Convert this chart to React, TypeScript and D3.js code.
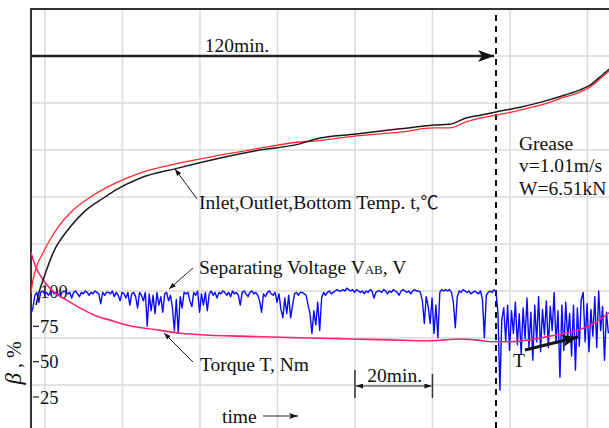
import React, { useEffect, useRef } from 'react'
import * as d3 from 'd3'

const W = 609
const H = 428

// inlet/outlet/bottom temperature, red and black trace (time in min, temp in °C)
const redTime = [0, 0.5, 1.5, 3.1, 4.9, 7.0, 10.1, 15.0, 21.9, 28.1, 38.2, 48.8, 59.1, 69.4, 73.3, 83.9, 95.2, 104.0, 108.1, 112.3, 115.9, 120.0, 126.2, 132.6, 137.8, 141.7, 144.3, 146.8, 149.2]
const redTemp = [29.6, 32.3, 35.3, 38.1, 40.9, 43.6, 46.6, 49.8, 53.0, 55.1, 57.2, 58.9, 60.4, 61.7, 61.9, 63.0, 63.8, 64.7, 64.7, 66.0, 66.8, 67.4, 68.5, 69.8, 71.3, 72.3, 73.4, 75.1, 76.8]
const blackTime = [1.3, 2.1, 3.1, 5.7, 10.1, 13.9, 19.1, 21.9, 28.1, 38.2, 48.8, 59.1, 69.4, 73.3, 83.9, 95.2, 104.0, 108.1, 112.3, 115.9, 120.0, 126.2, 132.6, 137.8, 141.7, 144.3, 146.8, 149.2]
const blackTemp = [27.0, 29.8, 32.3, 38.1, 43.6, 47.0, 50.0, 51.5, 54.0, 56.2, 58.3, 60.0, 61.3, 62.3, 63.4, 64.5, 65.3, 65.5, 66.8, 67.4, 68.1, 69.1, 70.4, 71.7, 72.8, 73.8, 75.5, 77.2]

// torque T, Nm
const torqueTime = [0, 1.0, 3.1, 6.2, 9.3, 12.6, 16.5, 20.4, 25.5, 32.0, 38.5, 46.2, 53.9, 62.2, 72.0, 82.3, 92.6, 102.2, 106.8, 110.2, 114.6, 119.2, 123.6, 128.8, 133.9, 137.8, 141.7, 145.5, 149.2]
const torqueNm = [1.91, 1.78, 1.62, 1.48, 1.40, 1.32, 1.24, 1.19, 1.13, 1.09, 1.05, 1.03, 1.02, 1.01, 1.00, 0.99, 0.98, 0.97, 0.98, 0.99, 0.98, 0.96, 0.96, 0.98, 1.02, 1.05, 1.09, 1.16, 1.27]

// separating voltage as beta %, one reading every half minute from t = 0
const blueStep = 0.5
const blueBeta = [
  84, 88, 97, 99, 92, 99, 100, 98, 99, 97, 99, 100, 98, 99, 98, 96, 99, 100, 99, 98,
  99, 95, 99, 100, 98, 96, 99, 98, 100, 99, 97, 99, 98, 100, 99, 98, 91, 99, 97, 99,
  99, 98, 100, 96, 99, 97, 93, 99, 98, 95, 99, 90, 98, 99, 96, 88, 99, 97, 93, 99,
  75, 98, 86, 97, 84, 99, 90, 96, 85, 98, 99, 93, 97, 88, 72, 94, 70, 96, 88, 99,
  98, 99, 93, 89, 99, 97, 100, 85, 98, 90, 99, 86, 98, 100, 97, 99, 95, 99, 98, 100,
  99, 97, 99, 96, 100, 98, 99, 97, 90, 99, 100, 98, 96, 99, 100, 98, 99, 97, 93, 85,
  98, 96, 99, 100, 98, 97, 99, 92, 98, 87, 81, 95, 84, 97, 81, 90, 98, 99, 97, 99,
  99, 98, 97, 90, 84, 70, 86, 76, 92, 72, 95, 99, 97, 99, 100, 98, 99, 100, 101, 100,
  100, 101, 100, 102, 101, 100, 101, 99, 101, 100, 99, 100, 98, 100, 99, 101, 100, 95, 99, 100,
  100, 99, 101, 100, 98, 100, 99, 101, 100, 99, 97, 100, 101, 100, 99, 100, 98, 100, 101, 100,
  100, 99, 93, 77, 96, 89, 77, 95, 70, 90, 67, 99, 101, 100, 101, 100, 101, 99, 92, 74,
  96, 100, 99, 101, 100, 99, 100, 98, 99, 100, 99, 98, 100, 94, 67, 97, 99, 100, 99, 101,
  99, 85, 30, 80, 88, 65, 90, 58, 86, 70, 92, 62, 84, 55, 88, 66, 95, 60, 85, 51,
  90, 64, 96, 57, 87, 69, 93, 60, 89, 72, 99, 63, 86, 39, 90, 58, 92, 66, 84, 54,
  90, 44, 88, 61, 94, 99, 64, 91, 57, 87, 68, 96, 60, 100, 72, 89, 51, 85, 70,
]

const betaTicks = [100, 75, 50, 25]
const gridTemps = [10, 20, 30, 40, 50, 60, 70, 80]
const gridTimes = [3.6, 23.6, 43.6, 63.6, 83.6, 103.6, 123.6, 143.6]
const greaseLines = ['Grease', 'v=1.01m/s', 'W=6.51kN']

const FONT = "'Liberation Serif', 'Times New Roman', serif"

export default function App() {
  const ref = useRef<SVGSVGElement>(null)

  useEffect(() => {
    const svg = d3.select(ref.current)
    svg.selectAll('*').remove()

    const x = d3.scaleLinear().domain([0, 120]).range([31, 496])
    const yT = d3.scaleLinear().domain([10, 90]).range([385, 9])
    const yB = d3.scaleLinear().domain([25, 100]).range([397, 291])
    const yN = d3.scaleLinear().domain([0, 2]).range([432, 244])

    svg.append('rect').attr('width', W).attr('height', H).attr('fill', '#fff')

    // arrow heads
    const defs = svg.append('defs')
    const marker = (id: string, w: number, h: number, d: string) =>
      defs.append('marker')
        .attr('id', id)
        .attr('viewBox', `0 0 ${w} ${h}`)
        .attr('refX', w).attr('refY', h / 2)
        .attr('markerWidth', w).attr('markerHeight', h)
        .attr('markerUnits', 'userSpaceOnUse')
        .attr('orient', 'auto-start-reverse')
        .append('path').attr('d', d).attr('fill', '#111')
    marker('big', 16, 12, 'M0,0L16,6L0,12L4,6Z')
    marker('small', 7, 5, 'M0,0L7,2.5L0,5Z')
    marker('thin', 9, 6, 'M0,0L9,3L0,6L2,3Z')

    // grid
    svg.append('g').selectAll('line').data(gridTimes).join('line')
      .attr('x1', d => x(d)).attr('x2', d => x(d))
      .attr('y1', yT(90)).attr('y2', H)
      .attr('stroke', '#dadada').attr('stroke-width', 1.5)
    svg.append('g').selectAll('line').data(gridTemps).join('line')
      .attr('x1', x(0)).attr('x2', W)
      .attr('y1', d => yT(d)).attr('y2', d => yT(d))
      .attr('stroke', '#dadada').attr('stroke-width', 1.5)

    // frame
    svg.append('line').attr('x1', x(0)).attr('x2', W).attr('y1', yT(90)).attr('y2', yT(90))
      .attr('stroke', '#333').attr('stroke-width', 2)
    svg.append('line').attr('x1', x(0)).attr('x2', x(0)).attr('y1', yT(90) - 1).attr('y2', H)
      .attr('stroke', '#333').attr('stroke-width', 2)

    // beta axis ticks
    const tk = svg.append('g')
    tk.selectAll('line').data(betaTicks.slice(1)).join('line')
      .attr('x1', 33).attr('x2', 39)
      .attr('y1', d => yB(d)).attr('y2', d => yB(d))
      .attr('stroke', '#222').attr('stroke-width', 1.2)

    // 120 min arrow
    svg.append('line').attr('x1', x(0)).attr('x2', x(120) - 2)
      .attr('y1', yT(80)).attr('y2', yT(80))
      .attr('stroke', '#222').attr('stroke-width', 2.5)
      .attr('marker-end', 'url(#big)')

    // dashed line at 120 min
    svg.append('line').attr('x1', x(120)).attr('x2', x(120))
      .attr('y1', 15).attr('y2', H)
      .attr('stroke', '#111').attr('stroke-width', 2)
      .attr('stroke-dasharray', '6,5')

    // separating voltage
    const blueLine = d3.line<number>().x((_, i) => x(i * blueStep)).y(d => yB(d))
    svg.append('path').datum(blueBeta)
      .attr('fill', 'none').attr('stroke', '#0a0aff').attr('stroke-width', 1.4)
      .attr('stroke-linejoin', 'round')
      .attr('d', blueLine)

    // torque
    const tq = d3.line<number>().x((_, i) => x(torqueTime[i])).y(d => yN(d)).curve(d3.curveMonotoneX)
    svg.append('path').datum(torqueNm)
      .attr('fill', 'none').attr('stroke', '#ff2277').attr('stroke-width', 1.6)
      .attr('d', tq)

    // temperatures
    const rl = d3.line<number>().x((_, i) => x(redTime[i])).y(d => yT(d)).curve(d3.curveMonotoneX)
    svg.append('path').datum(redTemp)
      .attr('fill', 'none').attr('stroke', '#ff2a2a').attr('stroke-width', 1.3)
      .attr('d', rl)
    const bl = d3.line<number>().x((_, i) => x(blackTime[i])).y(d => yT(d)).curve(d3.curveMonotoneX)
    svg.append('path').datum(blackTemp)
      .attr('fill', 'none').attr('stroke', '#1a1a1a').attr('stroke-width', 1.5)
      .attr('d', bl)

    // texts
    const txt = (tx: number, ty: number, s: string, anchor = 'start', size = 19.5) =>
      svg.append('text').attr('x', tx).attr('y', ty)
        .attr('font-family', FONT).attr('font-size', size)
        .attr('text-anchor', anchor).attr('fill', '#111').text(s)

    tk.selectAll('text').data(betaTicks).join('text')
      .attr('x', 40).attr('y', d => yB(d) + 6.5)
      .attr('font-family', FONT).attr('font-size', 18.5).attr('fill', '#111')
      .text(d => d)

    txt(237, 51.5, '120min.', 'middle')
    greaseLines.forEach((s, i) => txt(519, 149.5 + i * 22.5, s))

    const it = txt(199, 208.5, 'Inlet,Outlet,Bottom Temp. t,')
    it.append('tspan').attr('font-family', "'Noto Sans CJK JP', serif").attr('font-size', 18).text('℃')
    svg.append('line').attr('x1', 197).attr('y1', 199).attr('x2', 175).attr('y2', 169)
      .attr('stroke', '#222').attr('stroke-width', 1).attr('marker-end', 'url(#small)')

    const sv = txt(199, 273.5, 'Separating Voltage V')
    sv.append('tspan').attr('font-size', 13).text('AB')
    sv.append('tspan').text(', V')
    svg.append('line').attr('x1', 193).attr('y1', 268).attr('x2', 169).attr('y2', 289)
      .attr('stroke', '#222').attr('stroke-width', 1).attr('marker-end', 'url(#small)')

    txt(200, 371, 'Torque T, Nm')
    svg.append('line').attr('x1', 193).attr('y1', 362).attr('x2', 164).attr('y2', 333)
      .attr('stroke', '#222').attr('stroke-width', 1).attr('marker-end', 'url(#small)')

    // 20 min bracket
    const b0 = x(83.6), b1 = x(103.6)
    svg.append('line').attr('x1', b0).attr('x2', b0).attr('y1', 370).attr('y2', 398)
      .attr('stroke', '#333').attr('stroke-width', 1.5)
    svg.append('line').attr('x1', b1).attr('x2', b1).attr('y1', 374).attr('y2', 398)
      .attr('stroke', '#333').attr('stroke-width', 1.5)
    svg.append('line').attr('x1', b0 + 1).attr('x2', b1 - 1).attr('y1', 386).attr('y2', 386)
      .attr('stroke', '#222').attr('stroke-width', 1)
      .attr('marker-start', 'url(#small)').attr('marker-end', 'url(#small)')
    txt((b0 + b1) / 2 + 1, 381.5, '20min.', 'middle')

    // time arrow
    txt(222, 423, 'time')
    svg.append('line').attr('x1', 263).attr('x2', 298).attr('y1', 416).attr('y2', 416)
      .attr('stroke', '#222').attr('stroke-width', 1).attr('marker-end', 'url(#thin)')

    // T arrow
    txt(513, 367, 'T')
    svg.append('line').attr('x1', 525).attr('y1', 350).attr('x2', 578).attr('y2', 337)
      .attr('stroke', '#111').attr('stroke-width', 3).attr('marker-end', 'url(#big)')

    // beta axis title
    const bt = svg.append('text')
      .attr('transform', 'translate(21,363) rotate(-90)')
      .attr('text-anchor', 'middle')
      .attr('font-family', FONT).attr('font-size', 20).attr('fill', '#111')
    bt.append('tspan').attr('font-style', 'italic').attr('font-size', 23).text('β')
    bt.append('tspan').text(' ,  %')
  }, [])

  return (
    <svg
      ref={ref}
      width={W}
      height={H}
      style={{ position: 'absolute', left: 0, top: 0, background: '#fff' }}
    />
  )
}
